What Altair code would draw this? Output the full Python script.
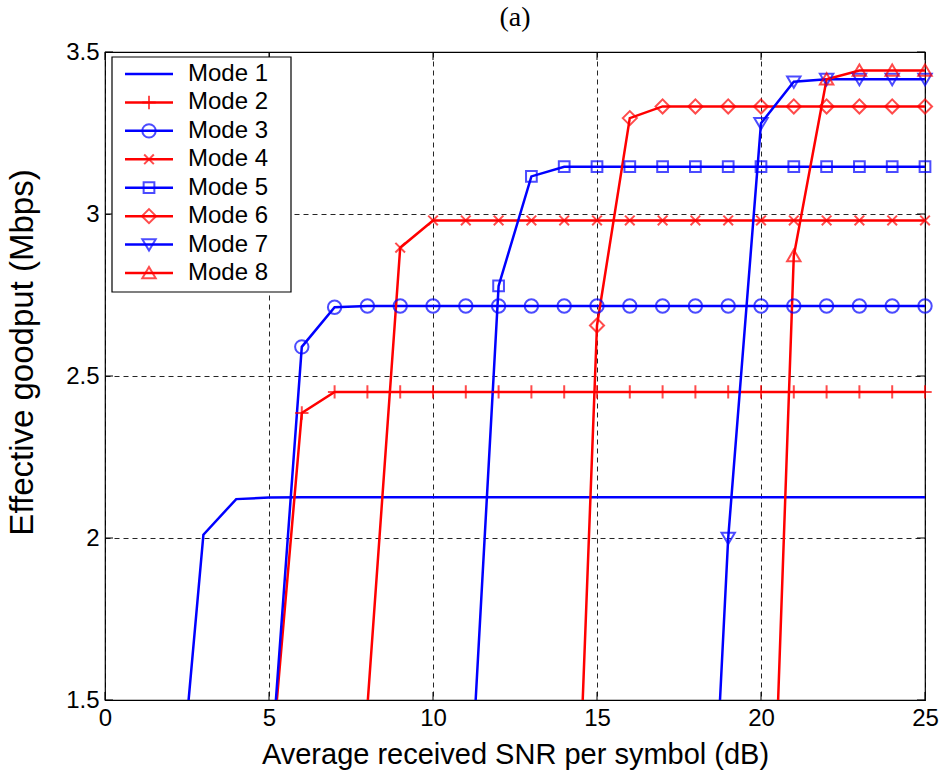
import altair as alt
import pandas as pd

# Effective goodput (Mbps) versus average received SNR per symbol (dB), one curve per mode.
modes = ["Mode 1", "Mode 2", "Mode 3", "Mode 4", "Mode 5", "Mode 6", "Mode 7", "Mode 8"]
colors = ["#0000FF", "#FF0000", "#0000FF", "#FF0000", "#0000FF", "#FF0000", "#0000FF", "#FF0000"]

# first SNR point of each curve (curves continue in 1 dB steps up to 25 dB)
snr_start = [2, 5, 5, 8, 11, 14, 18, 20]

mode1 = [0.88, 2.01, 2.12, 2.125, 2.126, 2.126, 2.126, 2.126, 2.126, 2.126, 2.126, 2.126,
         2.126, 2.126, 2.126, 2.126, 2.126, 2.126, 2.126, 2.126, 2.126, 2.126, 2.126, 2.126]
mode2 = [1.22, 2.386, 2.451, 2.451, 2.451, 2.451, 2.451, 2.451, 2.451, 2.451, 2.451,
         2.451, 2.451, 2.451, 2.451, 2.451, 2.451, 2.451, 2.451, 2.451, 2.451]
mode3 = [1.21, 2.59, 2.712, 2.716, 2.716, 2.716, 2.716, 2.716, 2.716, 2.716, 2.716,
         2.716, 2.716, 2.716, 2.716, 2.716, 2.716, 2.716, 2.716, 2.716, 2.716]
mode4 = [1.48, 2.896, 2.98, 2.98, 2.98, 2.98, 2.98, 2.98, 2.98, 2.98, 2.98, 2.98,
         2.98, 2.98, 2.98, 2.98, 2.98, 2.98]
mode5 = [0.95, 2.778, 3.116, 3.146, 3.146, 3.146, 3.146, 3.146, 3.146, 3.146, 3.146,
         3.146, 3.146, 3.146, 3.146]
mode6 = [0.0, 2.656, 3.296, 3.332, 3.332, 3.332, 3.332, 3.332, 3.332, 3.332, 3.332, 3.332]
mode7 = [0.0, 2.0, 3.28, 3.408, 3.416, 3.416, 3.416, 3.416]
mode8 = [0.0, 2.871, 3.416, 3.443, 3.443, 3.443]

series = [mode1, mode2, mode3, mode4, mode5, mode6, mode7, mode8]

x_ticks = [0, 5, 10, 15, 20, 25]
y_ticks = [1.5, 2, 2.5, 3, 3.5]
panel_label = "(a)"

# marker outlines: none, plus, circle, x, square, diamond, triangle down, triangle up
marker_paths = [
    "M0,0",
    "M-1,0L1,0M0,-1L0,1",
    "circle",
    "M-0.72,-0.72L0.72,0.72M-0.72,0.72L0.72,-0.72",
    "M-0.8,-0.8L0.8,-0.8L0.8,0.8L-0.8,0.8Z",
    "M-1.05,0L0,-1.05L1.05,0L0,1.05Z",
    "M-1,-0.8L1,-0.8L0,0.9Z",
    "M-1,0.8L1,0.8L0,-0.9Z",
]

rows = []
for name, start, vals in zip(modes, snr_start, series):
    for i, v in enumerate(vals):
        rows.append({"mode": name, "snr": start + i, "goodput": v})
df = pd.DataFrame(rows)

W, H = 820, 648
FONT = "Liberation Sans"
MARK_SIZE = 180

color_scale = alt.Scale(domain=modes, range=colors)
shape_scale = alt.Scale(domain=modes, range=marker_paths)
x_scale = alt.Scale(domain=[0, 25], nice=False, zero=False)
y_scale = alt.Scale(domain=[1.5, 3.5], nice=False, zero=False)

base = alt.Chart(df)

lines = base.mark_line(clip=True, strokeWidth=2.5).encode(
    x=alt.X("snr:Q", scale=x_scale,
            axis=alt.Axis(values=x_ticks, title="Average received SNR per symbol (dB)",
                          titleFontSize=29, titleY=63, titleBaseline="alphabetic")),
    y=alt.Y("goodput:Q", scale=y_scale,
            axis=alt.Axis(values=y_ticks, format="~g", title="Effective goodput (Mbps)",
                          titleFontSize=33, titleX=-73, titleY=300,
                          titleBaseline="alphabetic", titleAngle=-90, titleAlign="center")),
    color=alt.Color("mode:N", scale=color_scale, legend=None),
    order="snr:Q",
)

points = base.mark_point(filled=False, strokeWidth=2, size=MARK_SIZE).encode(
    x="snr:Q",
    y="goodput:Q",
    color=alt.Color("mode:N", scale=color_scale, legend=None),
    shape=alt.Shape("mode:N", scale=shape_scale, legend=None),
).transform_filter(
    (alt.datum.mode != "Mode 1") & (alt.datum.goodput >= 1.5)
)

# inward tick marks on all four sides
xt = pd.DataFrame({"t": x_ticks})
yt = pd.DataFrame({"t": y_ticks})
tick_bottom = alt.Chart(xt).mark_rule(color="black", strokeWidth=1).encode(
    x="t:Q", y=alt.value(H), y2=alt.value(H - 8))
tick_top = alt.Chart(xt).mark_rule(color="black", strokeWidth=1).encode(
    x="t:Q", y=alt.value(0), y2=alt.value(8))
tick_left = alt.Chart(yt).mark_rule(color="black", strokeWidth=1).encode(
    y="t:Q", x=alt.value(0), x2=alt.value(8))
tick_right = alt.Chart(yt).mark_rule(color="black", strokeWidth=1).encode(
    y="t:Q", x=alt.value(W), x2=alt.value(W - 8))

main = alt.layer(lines, points, tick_bottom, tick_top, tick_left, tick_right)

# legend box drawn inside the plot
leg_df = pd.DataFrame({"mode": modes})
leg_y = alt.Y("mode:N", scale=alt.Scale(type="point", domain=modes, range=[22, 221], padding=0),
              axis=None)
leg_box = alt.Chart(pd.DataFrame({"k": [0]})).mark_rect(
    fill="white", stroke="black", strokeWidth=1.2
).encode(x=alt.value(7), x2=alt.value(186), y=alt.value(5), y2=alt.value(240))
leg_lines = alt.Chart(leg_df).mark_rule(strokeWidth=2.5).encode(
    x=alt.value(20), x2=alt.value(68), y=leg_y,
    color=alt.Color("mode:N", scale=color_scale, legend=None))
leg_marks = alt.Chart(leg_df).mark_point(filled=False, strokeWidth=2, size=MARK_SIZE).encode(
    x=alt.value(44), y=leg_y,
    color=alt.Color("mode:N", scale=color_scale, legend=None),
    shape=alt.Shape("mode:N", scale=shape_scale, legend=None),
).transform_filter(alt.datum.mode != "Mode 1")
leg_text = alt.Chart(leg_df).mark_text(
    align="left", baseline="middle", font=FONT, fontSize=24, color="black"
).encode(x=alt.value(83), y=leg_y, text="mode:N")

# panel label centred above the plot
panel = alt.Chart(pd.DataFrame({"label": [panel_label]})).mark_text(
    align="center", baseline="middle", font="Liberation Serif", fontSize=28, color="black"
).encode(x=alt.value(W / 2), y=alt.value(-34), text="label:N")

legend = alt.layer(leg_box, leg_lines, leg_marks, leg_text, panel)

chart = alt.layer(main, legend).resolve_scale(y="independent").properties(
    width=W, height=H,
    padding={"left": 105, "top": 52, "right": 18, "bottom": 73},
    autosize="none",
    background="white",
).configure_view(
    stroke="black", strokeWidth=1.2
).configure_axis(
    grid=True, gridColor="black", gridDash=[5, 4], gridOpacity=0.85, gridWidth=1,
    domain=False, ticks=False, labelFlush=False,
    labelFont=FONT, labelFontSize=24, labelColor="black", labelPadding=6,
    titleFont=FONT, titleFontWeight="normal", titleColor="black",
)

chart.save("out.html", embed_options={"renderer": "svg", "actions": False})
